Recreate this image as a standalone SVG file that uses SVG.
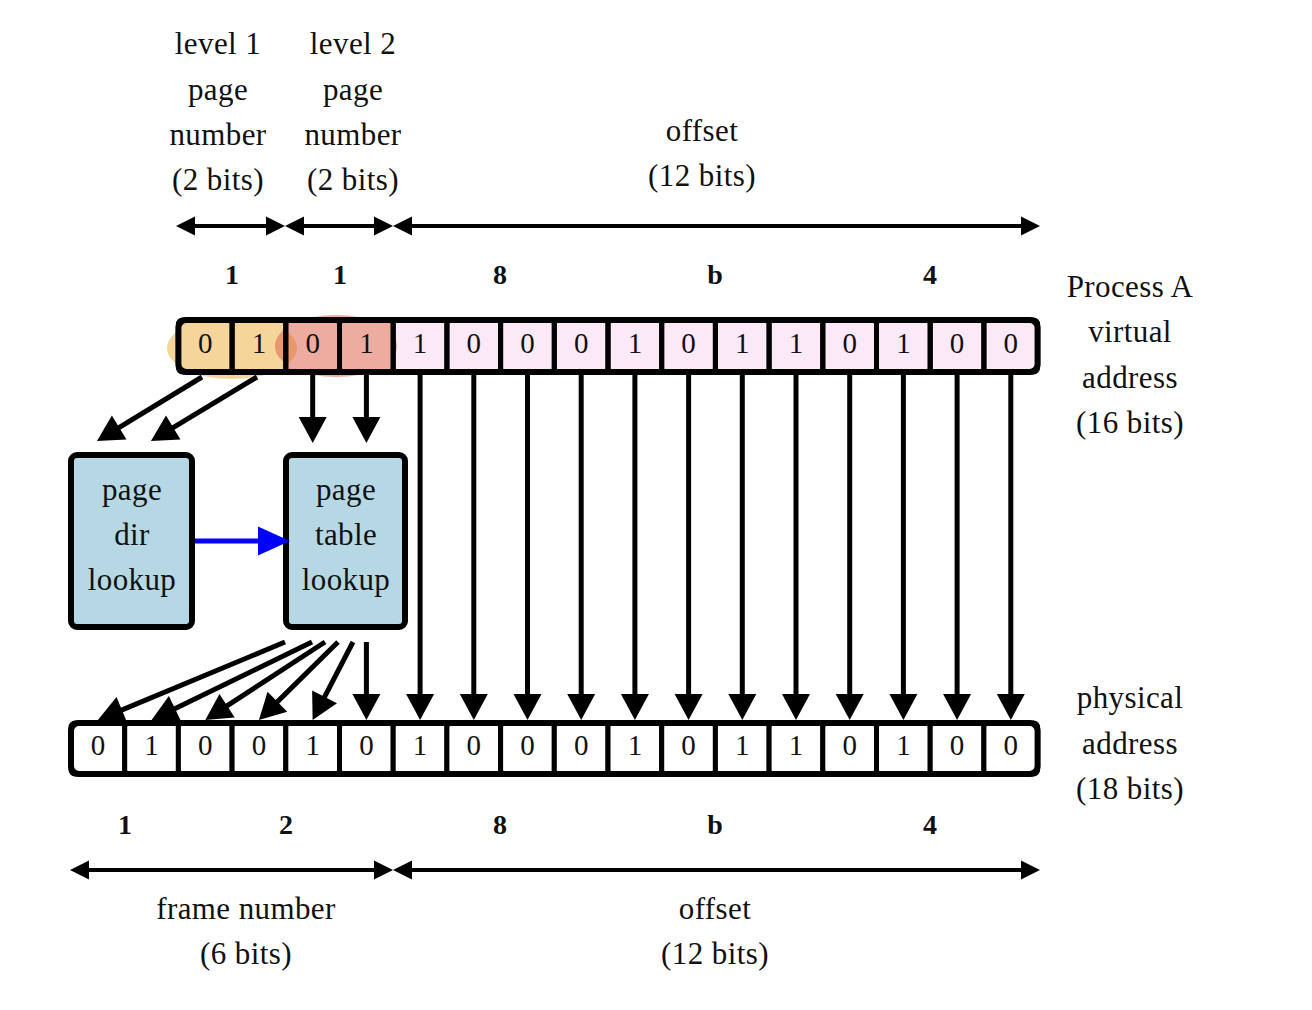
<svg xmlns="http://www.w3.org/2000/svg" width="1312" height="1010" viewBox="0 0 1312 1010">
<style>
text{font-family:"Liberation Serif","Times New Roman",serif;fill:#111;}
.t{font-size:31px;letter-spacing:0.4px;text-anchor:middle;}
.d{font-size:29px;text-anchor:middle;}
.b{font-size:28px;font-weight:bold;text-anchor:middle;}
.cell{stroke:#000;stroke-width:5;}
.frame{fill:none;stroke:#000;stroke-width:6;}
.arr{stroke:#000;stroke-width:5;fill:none;marker-end:url(#ah);}
.dbl{stroke:#000;stroke-width:4;fill:none;marker-end:url(#dh);marker-start:url(#dh);}
.box{fill:#b5d8e4;stroke:#000;stroke-width:6;}
</style>
<defs>
<marker id="ah" markerUnits="userSpaceOnUse" markerWidth="30" markerHeight="30" refX="18" refY="14" orient="auto" overflow="visible"><path d="M0,0 L26,14 L0,28 Z" fill="#000"/></marker>
<marker id="dh" markerUnits="userSpaceOnUse" markerWidth="20" markerHeight="20" refX="13" refY="9.5" orient="auto-start-reverse" overflow="visible"><path d="M0,0 L19,9.5 L0,19 Z" fill="#000"/></marker>
<marker id="bh" markerUnits="userSpaceOnUse" markerWidth="34" markerHeight="30" refX="24" refY="14.5" orient="auto" overflow="visible"><path d="M0,0 L32,14.5 L0,29 Z" fill="#0000ff"/></marker>
<clipPath id="oclip"><ellipse cx="232" cy="348" rx="65" ry="31"/></clipPath>
</defs>

<!-- header labels -->
<g id="lbl-level1">
<text class="t" x="218" y="54">level 1</text>
<text class="t" x="218" y="100">page</text>
<text class="t" x="218" y="145">number</text>
<text class="t" x="218" y="190">(2 bits)</text>
</g>
<g id="lbl-level2">
<text class="t" x="353" y="54">level 2</text>
<text class="t" x="353" y="100">page</text>
<text class="t" x="353" y="145">number</text>
<text class="t" x="353" y="190">(2 bits)</text>
</g>
<g id="lbl-offset-top">
<text class="t" x="702" y="141">offset</text>
<text class="t" x="702" y="186">(12 bits)</text>
</g>
<g id="hex-top">
<text class="b" x="232" y="284">1</text>
<text class="b" x="340" y="284">1</text>
<text class="b" x="500" y="284">8</text>
<text class="b" x="715" y="284">b</text>
<text class="b" x="930" y="284">4</text>
</g>
<g id="lbl-virtual">
<text class="t" x="1130" y="297">Process A</text>
<text class="t" x="1130" y="342">virtual</text>
<text class="t" x="1130" y="388">address</text>
<text class="t" x="1130" y="433">(16 bits)</text>
</g>
<g id="lbl-physical">
<text class="t" x="1130" y="708">physical</text>
<text class="t" x="1130" y="754">address</text>
<text class="t" x="1130" y="799">(18 bits)</text>
</g>
<g id="hex-bottom">
<text class="b" x="125" y="834">1</text>
<text class="b" x="286" y="834">2</text>
<text class="b" x="500" y="834">8</text>
<text class="b" x="715" y="834">b</text>
<text class="b" x="930" y="834">4</text>
</g>
<g id="lbl-frame">
<text class="t" x="246" y="919">frame number</text>
<text class="t" x="246" y="964">(6 bits)</text>
</g>
<g id="lbl-offset-bottom">
<text class="t" x="715" y="919">offset</text>
<text class="t" x="715" y="964">(12 bits)</text>
</g>

<!-- virtual address row -->
<g id="virtual-row">
<rect x="178.4" y="320" width="107.4" height="52" fill="#f6d59a"/>
<rect x="285.8" y="320" width="107.4" height="52" fill="#eeab9f"/>
<rect x="393.2" y="320" width="644.4" height="52" fill="#fbe9f8"/>
<ellipse cx="232" cy="348" rx="65" ry="31" fill="#f6d59a"/>
<ellipse cx="336" cy="346" rx="61" ry="31" fill="#eeab9f"/>
<ellipse cx="336" cy="346" rx="61" ry="31" fill="#e8986c" clip-path="url(#oclip)"/>
<g fill="none" class="cell">
<rect x="178.4" y="320" width="53.7" height="52" rx="4"/>
<rect x="232.1" y="320" width="53.7" height="52" rx="4"/>
<rect x="285.8" y="320" width="53.7" height="52" rx="4"/>
<rect x="339.5" y="320" width="53.7" height="52" rx="4"/>
<rect x="393.2" y="320" width="53.7" height="52" rx="4"/>
<rect x="446.9" y="320" width="53.7" height="52" rx="4"/>
<rect x="500.6" y="320" width="53.7" height="52" rx="4"/>
<rect x="554.3" y="320" width="53.7" height="52" rx="4"/>
<rect x="608.0" y="320" width="53.7" height="52" rx="4"/>
<rect x="661.7" y="320" width="53.7" height="52" rx="4"/>
<rect x="715.4" y="320" width="53.7" height="52" rx="4"/>
<rect x="769.1" y="320" width="53.7" height="52" rx="4"/>
<rect x="822.8" y="320" width="53.7" height="52" rx="4"/>
<rect x="876.5" y="320" width="53.7" height="52" rx="4"/>
<rect x="930.2" y="320" width="53.7" height="52" rx="4"/>
<rect x="983.9" y="320" width="53.7" height="52" rx="4"/>
</g>
<rect class="frame" x="178.4" y="320" width="859.2" height="52" rx="8"/>
<text class="d" x="205.3" y="353">0</text>
<text class="d" x="259.0" y="353">1</text>
<text class="d" x="312.7" y="353">0</text>
<text class="d" x="366.4" y="353">1</text>
<text class="d" x="420.1" y="353">1</text>
<text class="d" x="473.8" y="353">0</text>
<text class="d" x="527.5" y="353">0</text>
<text class="d" x="581.2" y="353">0</text>
<text class="d" x="634.9" y="353">1</text>
<text class="d" x="688.6" y="353">0</text>
<text class="d" x="742.3" y="353">1</text>
<text class="d" x="796.0" y="353">1</text>
<text class="d" x="849.7" y="353">0</text>
<text class="d" x="903.4" y="353">1</text>
<text class="d" x="957.1" y="353">0</text>
<text class="d" x="1010.8" y="353">0</text>
</g>

<!-- physical address row -->
<g id="physical-row">
<g fill="#fff" class="cell">
<rect x="71.0" y="723" width="53.7" height="51" rx="4"/>
<rect x="124.7" y="723" width="53.7" height="51" rx="4"/>
<rect x="178.4" y="723" width="53.7" height="51" rx="4"/>
<rect x="232.1" y="723" width="53.7" height="51" rx="4"/>
<rect x="285.8" y="723" width="53.7" height="51" rx="4"/>
<rect x="339.5" y="723" width="53.7" height="51" rx="4"/>
<rect x="393.2" y="723" width="53.7" height="51" rx="4"/>
<rect x="446.9" y="723" width="53.7" height="51" rx="4"/>
<rect x="500.6" y="723" width="53.7" height="51" rx="4"/>
<rect x="554.3" y="723" width="53.7" height="51" rx="4"/>
<rect x="608.0" y="723" width="53.7" height="51" rx="4"/>
<rect x="661.7" y="723" width="53.7" height="51" rx="4"/>
<rect x="715.4" y="723" width="53.7" height="51" rx="4"/>
<rect x="769.1" y="723" width="53.7" height="51" rx="4"/>
<rect x="822.8" y="723" width="53.7" height="51" rx="4"/>
<rect x="876.5" y="723" width="53.7" height="51" rx="4"/>
<rect x="930.2" y="723" width="53.7" height="51" rx="4"/>
<rect x="983.9" y="723" width="53.7" height="51" rx="4"/>
</g>
<rect class="frame" x="71" y="723" width="966.6" height="51" rx="8"/>
<text class="d" x="97.9" y="755">0</text>
<text class="d" x="151.6" y="755">1</text>
<text class="d" x="205.3" y="755">0</text>
<text class="d" x="259.0" y="755">0</text>
<text class="d" x="312.7" y="755">1</text>
<text class="d" x="366.4" y="755">0</text>
<text class="d" x="420.1" y="755">1</text>
<text class="d" x="473.8" y="755">0</text>
<text class="d" x="527.5" y="755">0</text>
<text class="d" x="581.2" y="755">0</text>
<text class="d" x="634.9" y="755">1</text>
<text class="d" x="688.6" y="755">0</text>
<text class="d" x="742.3" y="755">1</text>
<text class="d" x="796.0" y="755">1</text>
<text class="d" x="849.7" y="755">0</text>
<text class="d" x="903.4" y="755">1</text>
<text class="d" x="957.1" y="755">0</text>
<text class="d" x="1010.8" y="755">0</text>
</g>

<!-- nodes -->
<g id="page-dir">
<rect class="box" x="71" y="455" width="121" height="172" rx="6"/>
<text class="t" x="132" y="500">page</text>
<text class="t" x="132" y="545">dir</text>
<text class="t" x="132" y="590">lookup</text>
</g>
<g id="page-table">
<rect class="box" x="286" y="455" width="119" height="172" rx="6"/>
<text class="t" x="346" y="500">page</text>
<text class="t" x="346" y="545">table</text>
<text class="t" x="346" y="590">lookup</text>
</g>

<!-- connectors -->
<g id="connectors">
<line class="dbl" x1="182" y1="226" x2="279" y2="226"/>
<line class="dbl" x1="291" y1="226" x2="387" y2="226"/>
<line class="dbl" x1="399" y1="226" x2="1034" y2="226"/>
<line class="dbl" x1="76" y1="870" x2="387" y2="870"/>
<line class="dbl" x1="399" y1="870" x2="1034" y2="870"/>

<line class="arr" x1="202" y1="377" x2="103.8" y2="436.8"/>
<line class="arr" x1="257" y1="377" x2="157.8" y2="436.9"/>
<line class="arr" x1="312.7" y1="375" x2="312.7" y2="435"/>
<line class="arr" x1="366.4" y1="375" x2="366.4" y2="435"/>

<line x1="195" y1="541" x2="282" y2="541" stroke="#0000ff" stroke-width="5" marker-end="url(#bh)"/>

<line class="arr" x1="285" y1="642" x2="105.3" y2="716.9"/>
<line class="arr" x1="312" y1="642" x2="158.8" y2="716.5"/>
<line class="arr" x1="325" y1="642" x2="212" y2="715.6"/>
<line class="arr" x1="338" y1="642" x2="264.6" y2="714.4"/>
<line class="arr" x1="353" y1="642" x2="316.3" y2="712.9"/>
<line class="arr" x1="366.4" y1="642" x2="366.4" y2="712"/>

<line class="arr" x1="420.1" y1="375" x2="420.1" y2="712"/>
<line class="arr" x1="473.8" y1="375" x2="473.8" y2="712"/>
<line class="arr" x1="527.5" y1="375" x2="527.5" y2="712"/>
<line class="arr" x1="581.2" y1="375" x2="581.2" y2="712"/>
<line class="arr" x1="634.9" y1="375" x2="634.9" y2="712"/>
<line class="arr" x1="688.6" y1="375" x2="688.6" y2="712"/>
<line class="arr" x1="742.3" y1="375" x2="742.3" y2="712"/>
<line class="arr" x1="796.0" y1="375" x2="796.0" y2="712"/>
<line class="arr" x1="849.7" y1="375" x2="849.7" y2="712"/>
<line class="arr" x1="903.4" y1="375" x2="903.4" y2="712"/>
<line class="arr" x1="957.1" y1="375" x2="957.1" y2="712"/>
<line class="arr" x1="1010.8" y1="375" x2="1010.8" y2="712"/>
</g>
</svg>
